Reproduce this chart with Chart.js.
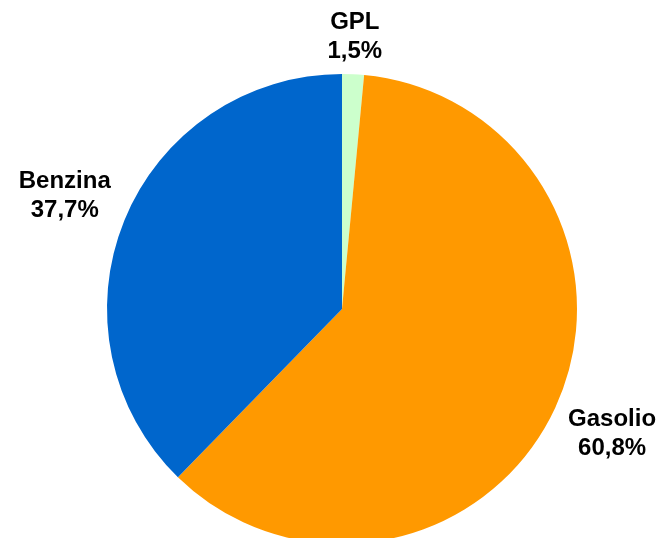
<!DOCTYPE html>
<html>
<head>
<meta charset="utf-8">
<script src="https://cdn.jsdelivr.net/npm/chart.js@4/dist/chart.umd.min.js"></script>
<style>
  html, body { margin: 0; padding: 0; background: #fff; overflow: hidden; }
  #wrap { width: 666px; height: 560px; }
</style>
</head>
<body>
<div id="wrap"><canvas id="fuelChart" width="666" height="560"></canvas></div>
<script>
// Fuel type shares
const categories = ['GPL', 'Gasolio', 'Benzina'];
const shares = [1.5, 60.8, 37.7];
const sliceColors = ['#CCFFCC', '#FF9900', '#0066CC'];

// draws the "name / value" labels just outside each slice
const outsideLabels = {
  id: 'outsideLabels',
  afterDatasetsDraw(chart) {
    const ctx = chart.ctx;
    const meta = chart.getDatasetMeta(0);
    ctx.save();
    ctx.font = 'bold 24px "Liberation Sans", Arial, sans-serif';
    ctx.fillStyle = '#000';
    ctx.textAlign = 'center';
    ctx.textBaseline = 'middle';
    meta.data.forEach((arc, i) => {
      const p = arc.getProps(['x', 'y', 'startAngle', 'endAngle', 'outerRadius'], true);
      const mid = (p.startAngle + p.endAngle) / 2;
      const dx = Math.cos(mid), dy = Math.sin(mid);
      const line1 = categories[i];
      const line2 = shares[i].toFixed(1).replace('.', ',') + '%';
      const halfW = Math.max(ctx.measureText(line1).width, ctx.measureText(line2).width) / 2;
      const halfH = 23;
      const dist = p.outerRadius + 13 + Math.abs(dx) * halfW + Math.abs(dy) * halfH;
      const cx = p.x + dx * dist;
      const cy = p.y + dy * dist;
      ctx.fillText(line1, cx, cy - 14.5);
      ctx.fillText(line2, cx, cy + 14.5);
    });
    ctx.restore();
  }
};

new Chart(document.getElementById('fuelChart'), {
  type: 'pie',
  data: {
    labels: categories,
    datasets: [{
      data: shares,
      backgroundColor: sliceColors,
      borderWidth: 0
    }]
  },
  options: {
    responsive: false,
    animation: false,
    layout: {
      padding: { top: 74, bottom: 16, left: 107, right: 89 }
    },
    plugins: {
      legend: { display: false },
      tooltip: { enabled: false }
    }
  },
  plugins: [outsideLabels]
});
</script>
</body>
</html>
